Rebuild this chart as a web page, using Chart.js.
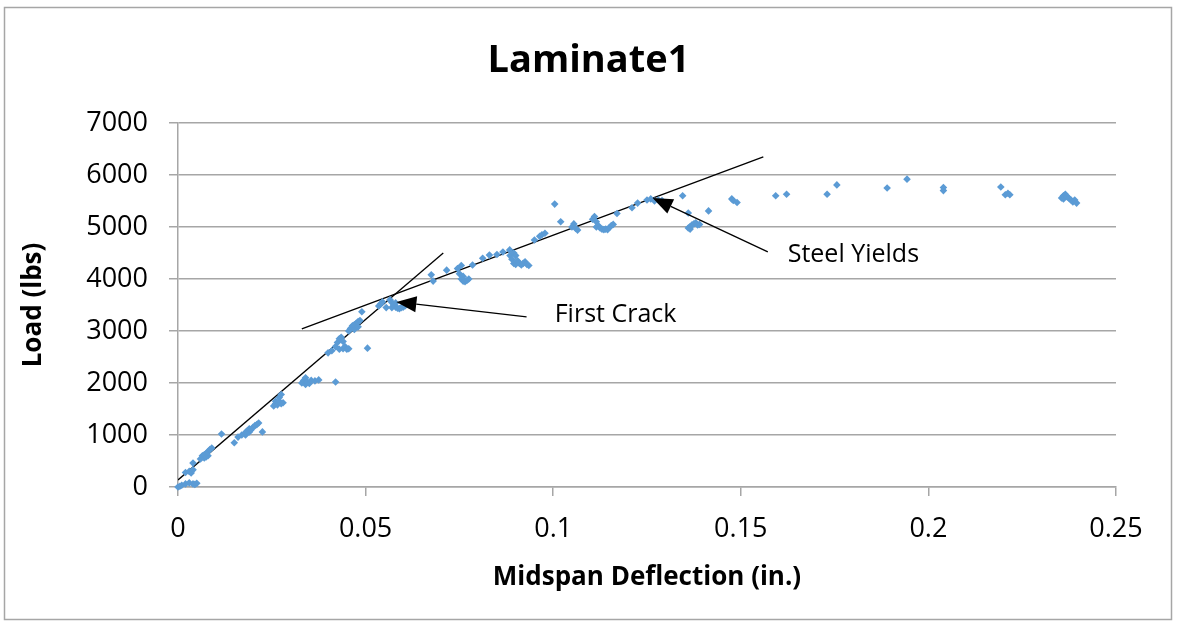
<!DOCTYPE html>
<html>
<head>
<meta charset="utf-8">
<script src="https://cdn.jsdelivr.net/npm/chart.js@4"></script>
<style>
  html, body { margin: 0; background: #fff; }
  canvas { display: block; }
</style>
</head>
<body>
<canvas id="chartLaminate" width="1177" height="624"></canvas>
<script>
// midspan deflection (in.) and load (lbs)
const deflection = [
    0.0000, 0.0005, 0.0010, 0.0020, 0.0030, 0.0040, 0.0045, 0.0050, 0.0020, 0.0030, 0.0035, 0.0040, 0.0040,
    0.0060, 0.0065, 0.0070, 0.0070, 0.0075, 0.0075, 0.0080, 0.0080, 0.0085, 0.0090, 0.0116, 0.0150, 0.0160,
    0.0170, 0.0180, 0.0180, 0.0185, 0.0190, 0.0190, 0.0195, 0.0200, 0.0205, 0.0210, 0.0215, 0.0225,
    0.0255, 0.0260, 0.0260, 0.0265, 0.0270, 0.0270, 0.0275, 0.0275, 0.0280,
    0.0330, 0.0335, 0.0340, 0.0340, 0.0345, 0.0350, 0.0355, 0.0365, 0.0375, 0.0420,
    0.0400, 0.0410, 0.0420, 0.0425, 0.0430, 0.0430, 0.0435, 0.0440, 0.0440, 0.0445, 0.0450, 0.0455, 0.0505,
    0.0455, 0.0460, 0.0465, 0.0470, 0.0470, 0.0475, 0.0480, 0.0480, 0.0485, 0.0490,
    0.0535, 0.0540, 0.0545, 0.0555, 0.0565, 0.0570, 0.0570, 0.0575, 0.0580, 0.0580, 0.0585, 0.0590, 0.0595, 0.0600, 0.0605,
    0.0675, 0.0680, 0.0716, 0.0745, 0.0750, 0.0755, 0.0755, 0.0760, 0.0760, 0.0765, 0.0770, 0.0775,
    0.0785, 0.0812, 0.0830, 0.0850, 0.0866, 0.0884, 0.0885, 0.0890, 0.0895, 0.0895, 0.0900, 0.0900,
    0.0905, 0.0910, 0.0915, 0.0920, 0.0925, 0.0930, 0.0935, 0.0950, 0.0964, 0.0970, 0.0978,
    0.1004, 0.1020, 0.1050, 0.1055, 0.1060, 0.1065,
    0.1105, 0.1110, 0.1115, 0.1115, 0.1120, 0.1125, 0.1130, 0.1135, 0.1140, 0.1145, 0.1150, 0.1155, 0.1160,
    0.1170, 0.1210, 0.1225, 0.1250, 0.1260, 0.1270, 0.1280, 0.1290, 0.1345,
    0.1360, 0.1360, 0.1365, 0.1365, 0.1370, 0.1375, 0.1380, 0.1385, 0.1390, 0.1414,
    0.1476, 0.1480, 0.1490, 0.1593, 0.1622, 0.1730, 0.1756, 0.1890, 0.1943, 0.2040, 0.2040,
    0.2193, 0.2205, 0.2212, 0.2217,
    0.2355, 0.2360, 0.2360, 0.2365, 0.2370, 0.2375, 0.2380, 0.2385, 0.2390, 0.2395
];
const load = [
    0, 15, 35, 60, 80, 60, 50, 70, 280, 300, 270, 330, 460,
    540, 600, 560, 620, 580, 650, 600, 680, 720, 750, 1020, 850, 960,
    1000, 1000, 1050, 1080, 1060, 1120, 1100, 1150, 1180, 1200, 1230, 1060,
    1560, 1600, 1650, 1580, 1650, 1720, 1600, 1780, 1620,
    2000, 2050, 2100, 1970, 2020, 1990, 2050, 2040, 2060, 2020,
    2580, 2620, 2700, 2780, 2650, 2850, 2880, 2660, 2800, 2700, 2650, 2660, 2670,
    3000, 3050, 3100, 3030, 3120, 3150, 3080, 3180, 3200, 3370,
    3480, 3520, 3560, 3450, 3600, 3450, 3550, 3500, 3460, 3540, 3440, 3430, 3450, 3460, 3480,
    4080, 3960, 4170, 4200, 4100, 4000, 4260, 3960, 4050, 3950, 3970, 4000,
    4270, 4400, 4460, 4470, 4520, 4560, 4450, 4380, 4300, 4500, 4280, 4450,
    4350, 4300, 4270, 4300, 4330, 4280, 4260, 4750, 4820, 4850, 4880,
    5440, 5100, 5000, 5060, 4970, 4940,
    5150, 5200, 5100, 5000, 5030, 4980, 4960, 4950, 4960, 4950, 4990, 5030, 5050,
    5260, 5370, 5460, 5520, 5540, 5500, 5520, 5510, 5600,
    5270, 4980, 5010, 4960, 5040, 5060, 5080, 5040, 5050, 5310,
    5540, 5510, 5470, 5600, 5630, 5630, 5810, 5750, 5920, 5700, 5760,
    5770, 5620, 5650, 5620,
    5560, 5600, 5540, 5630, 5580, 5550, 5520, 5480, 5520, 5460
];

const xTicks = [0, 0.05, 0.1, 0.15, 0.2, 0.25];
const yTicks = [0, 1000, 2000, 3000, 4000, 5000, 6000, 7000];

// hand-drawn slope lines
const elasticX = [0, 0.0707];
const elasticY = [135, 4500];
const crackedX = [0.033, 0.156];
const crackedY = [3040, 6350];

// callouts: label anchor, arrow tail, arrow tip
const calloutText = ['First Crack', 'Steel Yields'];
const calloutX = [0.1004, 0.1625];
const calloutY = [3173, 4327];
const tailX = [0.0929, 0.1572];
const tailY = [3270, 4520];
const tipX = [0.0582, 0.1265];
const tipY = [3560, 5560];

const GRID = '#a6a6a6';
const FONT = "'Open Sans', 'DejaVu Sans', sans-serif";

const pts = deflection.map((x, i) => ({ x: x, y: load[i] }));
const line = (xs, ys) => xs.map((x, i) => ({ x: x, y: ys[i] }));

const decor = {
    id: 'decor',
    beforeDraw(chart) {
        const ctx = chart.ctx;
        ctx.save();
        ctx.fillStyle = '#fff';
        ctx.fillRect(0, 0, chart.width, chart.height);
        ctx.strokeStyle = GRID;
        ctx.lineWidth = 1.5;
        ctx.strokeRect(4.5, 7.5, 1167, 612);
        ctx.restore();
    },
    afterDraw(chart) {
        const ctx = chart.ctx;
        const sx = chart.scales.x, sy = chart.scales.y;
        ctx.save();
        ctx.fillStyle = '#000';
        ctx.font = "bold 38px " + FONT;
        ctx.textAlign = 'center';
        ctx.textBaseline = 'alphabetic';
        ctx.fillText('Laminate1', chart.width / 2, 72);

        ctx.strokeStyle = '#000';
        ctx.lineWidth = 1.3;
        calloutText.forEach((t, i) => {
            const x0 = sx.getPixelForValue(tailX[i]), y0 = sy.getPixelForValue(tailY[i]);
            const x1 = sx.getPixelForValue(tipX[i]), y1 = sy.getPixelForValue(tipY[i]);
            const a = Math.atan2(y1 - y0, x1 - x0);
            const len = 20, half = 8;
            const bx = x1 - len * Math.cos(a), by = y1 - len * Math.sin(a);
            ctx.beginPath();
            ctx.moveTo(x0, y0);
            ctx.lineTo(bx, by);
            ctx.stroke();
            ctx.beginPath();
            ctx.moveTo(x1, y1);
            ctx.lineTo(bx + half * Math.sin(a), by - half * Math.cos(a));
            ctx.lineTo(bx - half * Math.sin(a), by + half * Math.cos(a));
            ctx.closePath();
            ctx.fill();

            ctx.font = "25px " + FONT;
            ctx.textAlign = 'left';
            ctx.fillText(t, sx.getPixelForValue(calloutX[i]), sy.getPixelForValue(calloutY[i]));
        });
        ctx.restore();
    }
};

new Chart(document.getElementById('chartLaminate'), {
    type: 'scatter',
    data: {
        datasets: [
            { data: pts, pointStyle: 'rectRot', pointRadius: 3.8, pointHoverRadius: 3.8, backgroundColor: '#5B9BD5', borderWidth: 0, clip: false },
            { data: line(elasticX, elasticY), showLine: true, borderColor: '#000', borderWidth: 1.3, pointRadius: 0 },
            { data: line(crackedX, crackedY), showLine: true, borderColor: '#000', borderWidth: 1.3, pointRadius: 0 }
        ]
    },
    options: {
        responsive: false,
        animation: false,
        layout: { padding: { top: 123, left: 0, right: 61, bottom: 0 } },
        plugins: { legend: { display: false }, title: { display: false }, tooltip: { enabled: false } },
        scales: {
            x: {
                type: 'linear', min: 0, max: 0.25,
                afterBuildTicks: s => { s.ticks = xTicks.map(v => ({ value: v })); },
                afterFit: s => { s.height = 137; },
                grid: { drawOnChartArea: false, drawTicks: true, tickLength: 9, color: GRID, lineWidth: 1.5 },
                border: { color: GRID, width: 1.5 },
                ticks: { color: '#000', padding: 17, maxRotation: 0, font: { family: FONT, size: 27 }, callback: v => String(v) },
                title: { display: true, text: 'Midspan Deflection (in.)', color: '#000', padding: { top: 0, bottom: 31 }, font: { family: FONT, size: 26, weight: 'bold' } }
            },
            y: {
                type: 'linear', min: 0, max: 7000,
                afterBuildTicks: s => { s.ticks = yTicks.map(v => ({ value: v })); },
                afterFit: s => { s.width = 178; },
                grid: { drawTicks: true, tickLength: 9, color: GRID, lineWidth: 1.5 },
                border: { color: GRID, width: 1.5 },
                ticks: { color: '#000', padding: 21, font: { family: FONT, size: 27 }, callback: v => String(v) },
                title: { display: true, text: 'Load (lbs)', color: '#000', padding: { top: 18, bottom: 0 }, font: { family: FONT, size: 26, weight: 'bold' } }
            }
        }
    },
    plugins: [decor]
});
</script>
</body>
</html>
